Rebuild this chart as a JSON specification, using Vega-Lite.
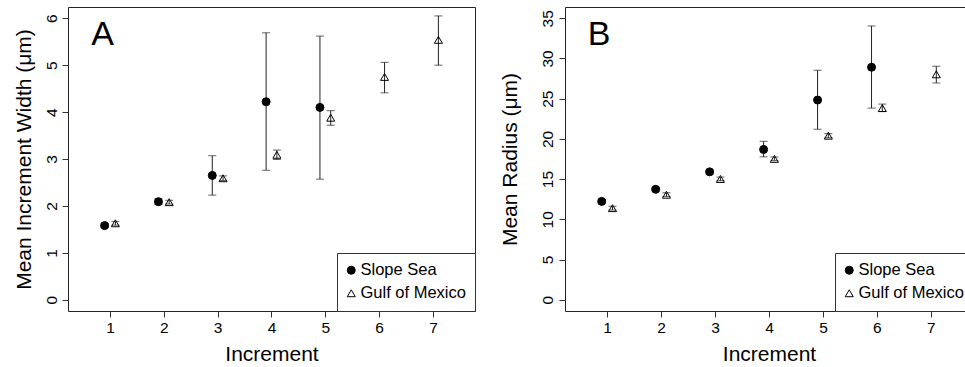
{
  "$schema": "https://vega.github.io/schema/vega-lite/v6.json",
  "padding": {"left": 12, "top": 6, "right": 0, "bottom": 0},
  "background": "white",
  "spacing": 22,
  "config": {
    "font": "Liberation Sans",
    "view": {"stroke": "#222", "strokeWidth": 1},
    "axis": {
      "domain": false,
      "grid": false,
      "ticks": true,
      "tickSize": 6,
      "tickColor": "#333",
      "labelFont": "Liberation Sans",
      "labelFontSize": 15.5,
      "labelColor": "black",
      "titleFont": "Liberation Sans",
      "titleFontSize": 21,
      "titleFontWeight": "normal",
      "titleColor": "black"
    },
    "axisX": {"labelPadding": 3, "titlePadding": 8},
    "axisY": {"labelAngle": 270, "labelAlign": "center", "labelBaseline": "bottom", "labelPadding": 3, "titlePadding": 10},
    "legend": {
      "orient": "bottom-right",
      "offset": 0,
      "strokeColor": "#333",
      "fillColor": "white",
      "padding": 9,
      "rowPadding": 6,
      "labelFont": "Liberation Sans",
      "labelFontSize": 16.5,
      "labelColor": "black",
      "labelOffset": 1,
      "symbolOffset": -3,
      "symbolSize": 64,
      "symbolStrokeWidth": 1,
      "cornerRadius": 0
    }
  },
  "datasets": {
    "widths": [
      {"site": "Slope Sea", "x": 0.9, "mean": 1.58, "lo": 1.54, "hi": 1.62},
      {"site": "Slope Sea", "x": 1.9, "mean": 2.09, "lo": 2.03, "hi": 2.15},
      {"site": "Slope Sea", "x": 2.9, "mean": 2.65, "lo": 2.23, "hi": 3.07},
      {"site": "Slope Sea", "x": 3.9, "mean": 4.22, "lo": 2.76, "hi": 5.69},
      {"site": "Slope Sea", "x": 4.9, "mean": 4.10, "lo": 2.57, "hi": 5.62},
      {"site": "Gulf of Mexico", "x": 1.1, "mean": 1.63, "lo": 1.59, "hi": 1.67},
      {"site": "Gulf of Mexico", "x": 2.1, "mean": 2.08, "lo": 2.04, "hi": 2.12},
      {"site": "Gulf of Mexico", "x": 3.1, "mean": 2.59, "lo": 2.54, "hi": 2.64},
      {"site": "Gulf of Mexico", "x": 4.1, "mean": 3.09, "lo": 2.99, "hi": 3.19},
      {"site": "Gulf of Mexico", "x": 5.1, "mean": 3.88, "lo": 3.72, "hi": 4.03},
      {"site": "Gulf of Mexico", "x": 6.1, "mean": 4.75, "lo": 4.41, "hi": 5.06},
      {"site": "Gulf of Mexico", "x": 7.1, "mean": 5.54, "lo": 5.00, "hi": 6.05}
    ],
    "radius": [
      {"site": "Slope Sea", "x": 0.9, "mean": 12.23, "lo": 12.0, "hi": 12.45},
      {"site": "Slope Sea", "x": 1.9, "mean": 13.73, "lo": 13.5, "hi": 13.95},
      {"site": "Slope Sea", "x": 2.9, "mean": 15.9, "lo": 15.65, "hi": 16.15},
      {"site": "Slope Sea", "x": 3.9, "mean": 18.69, "lo": 17.77, "hi": 19.7},
      {"site": "Slope Sea", "x": 4.9, "mean": 24.83, "lo": 21.2, "hi": 28.53},
      {"site": "Slope Sea", "x": 5.9, "mean": 28.91, "lo": 23.83, "hi": 34.04},
      {"site": "Gulf of Mexico", "x": 1.1, "mean": 11.39, "lo": 11.15, "hi": 11.62},
      {"site": "Gulf of Mexico", "x": 2.1, "mean": 13.06, "lo": 12.83, "hi": 13.3},
      {"site": "Gulf of Mexico", "x": 3.1, "mean": 15.02, "lo": 14.8, "hi": 15.25},
      {"site": "Gulf of Mexico", "x": 4.1, "mean": 17.52, "lo": 17.3, "hi": 17.75},
      {"site": "Gulf of Mexico", "x": 5.1, "mean": 20.4, "lo": 20.15, "hi": 20.65},
      {"site": "Gulf of Mexico", "x": 6.1, "mean": 23.83, "lo": 23.4, "hi": 24.33},
      {"site": "Gulf of Mexico", "x": 7.1, "mean": 28.03, "lo": 26.95, "hi": 29.03}
    ],
    "labelA": [{"panel": "A", "x": 0.65, "y": 5.43}],
    "labelB": [{"panel": "B", "x": 0.64, "y": 31.66}]
  },
  "resolve": {"legend": {"shape": "independent", "fill": "independent", "stroke": "independent"}, "scale": {"y": "independent", "x": "independent"}},
  "hconcat": [
    {
      "width": 407,
      "height": 304,
      "data": {"name": "widths"},
      "encoding": {
        "x": {"field": "x", "type": "quantitative", "title": "Increment", "scale": {"domain": [0.22, 7.78], "nice": false, "zero": false}, "axis": {"values": [1, 2, 3, 4, 5, 6, 7]}}
      },
      "layer": [
        {
          "mark": {"type": "rule", "color": "#222", "strokeWidth": 1},
          "encoding": {
            "y": {"field": "lo", "type": "quantitative", "title": "Mean Increment Width (μm)", "scale": {"domain": [-0.24, 6.24], "nice": false, "zero": false}, "axis": {"values": [0, 1, 2, 3, 4, 5, 6], "titlePadding": 10}},
            "y2": {"field": "hi"}
          }
        },
        {
          "mark": {"type": "tick", "orient": "horizontal", "color": "#222", "size": 8, "thickness": 1},
          "encoding": {"y": {"field": "lo", "type": "quantitative"}}
        },
        {
          "mark": {"type": "tick", "orient": "horizontal", "color": "#222", "size": 8, "thickness": 1},
          "encoding": {"y": {"field": "hi", "type": "quantitative"}}
        },
        {
          "mark": {"type": "point", "size": 64, "strokeWidth": 1, "opacity": 1},
          "encoding": {
            "y": {"field": "mean", "type": "quantitative"},
            "shape": {"field": "site", "type": "nominal", "scale": {"domain": ["Slope Sea", "Gulf of Mexico"], "range": ["circle", "triangle-up"]}, "legend": {"title": null}},
            "fill": {"field": "site", "type": "nominal", "scale": {"domain": ["Slope Sea", "Gulf of Mexico"], "range": ["black", "transparent"]}, "legend": {"title": null}},
            "stroke": {"field": "site", "type": "nominal", "scale": {"domain": ["Slope Sea", "Gulf of Mexico"], "range": ["black", "black"]}, "legend": {"title": null}}
          }
        },
        {
          "data": {"name": "labelA"},
          "mark": {"type": "text", "align": "left", "baseline": "alphabetic", "fontSize": 34, "font": "Liberation Sans", "color": "black"},
          "encoding": {
            "x": {"field": "x", "type": "quantitative"},
            "y": {"field": "y", "type": "quantitative"},
            "text": {"field": "panel"}
          }
        }
      ]
    },
    {
      "width": 408,
      "height": 304,
      "data": {"name": "radius"},
      "encoding": {
        "x": {"field": "x", "type": "quantitative", "title": "Increment", "scale": {"domain": [0.22, 7.78], "nice": false, "zero": false}, "axis": {"values": [1, 2, 3, 4, 5, 6, 7]}}
      },
      "layer": [
        {
          "mark": {"type": "rule", "color": "#222", "strokeWidth": 1},
          "encoding": {
            "y": {"field": "lo", "type": "quantitative", "title": "Mean Radius (μm)", "scale": {"domain": [-1.4, 36.4], "nice": false, "zero": false}, "axis": {"values": [0, 5, 10, 15, 20, 25, 30, 35], "titlePadding": 20, "labelPadding": 4}},
            "y2": {"field": "hi"}
          }
        },
        {
          "mark": {"type": "tick", "orient": "horizontal", "color": "#222", "size": 8, "thickness": 1},
          "encoding": {"y": {"field": "lo", "type": "quantitative"}}
        },
        {
          "mark": {"type": "tick", "orient": "horizontal", "color": "#222", "size": 8, "thickness": 1},
          "encoding": {"y": {"field": "hi", "type": "quantitative"}}
        },
        {
          "mark": {"type": "point", "size": 64, "strokeWidth": 1, "opacity": 1},
          "encoding": {
            "y": {"field": "mean", "type": "quantitative"},
            "shape": {"field": "site", "type": "nominal", "scale": {"domain": ["Slope Sea", "Gulf of Mexico"], "range": ["circle", "triangle-up"]}, "legend": {"title": null}},
            "fill": {"field": "site", "type": "nominal", "scale": {"domain": ["Slope Sea", "Gulf of Mexico"], "range": ["black", "transparent"]}, "legend": {"title": null}},
            "stroke": {"field": "site", "type": "nominal", "scale": {"domain": ["Slope Sea", "Gulf of Mexico"], "range": ["black", "black"]}, "legend": {"title": null}}
          }
        },
        {
          "data": {"name": "labelB"},
          "mark": {"type": "text", "align": "left", "baseline": "alphabetic", "fontSize": 34, "font": "Liberation Sans", "color": "black"},
          "encoding": {
            "x": {"field": "x", "type": "quantitative"},
            "y": {"field": "y", "type": "quantitative"},
            "text": {"field": "panel"}
          }
        }
      ]
    }
  ]
}
